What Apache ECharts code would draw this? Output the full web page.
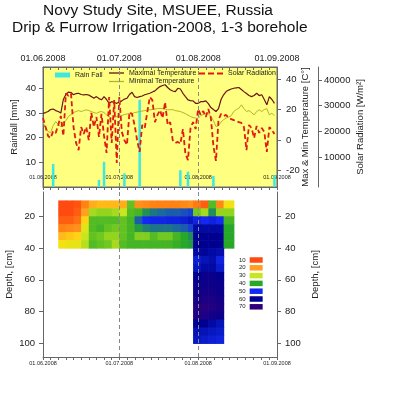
<!DOCTYPE html>
<html>
<head>
<meta charset="utf-8">
<script src="https://cdn.jsdelivr.net/npm/echarts@6/dist/echarts.min.js"></script>
<style>
html, body { margin: 0; padding: 0; background: #fff; }
#main { width: 400px; height: 397px; }
</style>
</head>
<body>
<div id="main"></div>
<script>
// daily weather, 01.06.2008 .. 31.08.2008
var startDay = '2008-06-01';
var maxTemp = [17.5, 18, 18.7, 20, 20.3, 19.3, 18.7, 17.7, 26.6, 29.9,
    31.5, 31.2, 29.7, 30.5, 30.7, 29.9, 29.7, 29.9, 29.5, 28.5,
    27.4, 28.5, 27.2, 26.4, 28.5, 26.6, 24.1, 25.2, 24.6, 24.1,
    24.9, 25.7, 26.9, 27.4, 29.9, 31.4, 28.5, 27.9, 28.5, 28.9,
    29.7, 30.2, 30.7, 31.5, 32.3, 33.8, 35.1, 35.8, 36.3, 34.5,
    33, 32.2, 31.8, 34, 33.5, 30.7, 28.5, 26.4, 25.9, 25.7,
    24.1, 24.1, 25.2, 25.2, 25.7, 23.9, 21.3, 20, 18.7, 20.6,
    26.6, 29.7, 31.8, 32.8, 33.5, 34, 34.3, 34.5, 33.2, 31.8,
    30.5, 29.2, 28.5, 29.2, 30.7, 29.2, 29.7, 26.6, 23.1, 28.5,
    26.6, 24.1];
var minTemp = [11.4, 8.1, 5.5, 4.8, 9.4, 12.1, 10.1, 8.8, 11.4, 12.7,
    15.4, 16.7, 18, 18.7, 19.3, 18.7, 19.3, 19.8, 19.3, 18.7,
    18, 17.5, 18.3, 18.7, 18, 16.5, 15.4, 14.2, 14.7, 15.4,
    16.5, 16, 16.7, 17, 17.5, 17.3, 18, 18.3, 18.7, 19,
    19.3, 19.6, 19.8, 20, 20.3, 20.6, 20.8, 20.6, 20.3, 19.8,
    19.8, 20, 19.3, 19, 18.7, 18, 17.3, 16.3, 15.4, 14.7,
    14.4, 14.2, 16, 16.7, 17.3, 17, 15.7, 12.7, 8.8, 9.4,
    11.7, 13.4, 14.4, 15, 16, 18.7, 20, 20.8, 23.1, 20.6,
    18.7, 19.3, 18, 16.5, 18.7, 19.8, 18.7, 20, 20.6, 16.5,
    17.5, 16];
var solarRad = [25200, 21700, 18200, 17400, 20100, 19400, 22500, 26000, 18200, 34800,
    33800, 34800, 21700, 15500, 12700, 21700, 19000, 21700, 16600, 27200,
    21700, 25600, 17800, 26800, 18200, 11600, 33400, 15500, 32200, 7700,
    33400, 19800, 16600, 14700, 27500, 26800, 22500, 16600, 12000, 22500,
    21300, 27500, 33400, 32200, 23600, 26400, 28300, 25200, 31400, 22500,
    23600, 16600, 15500, 15900, 15100, 20900, 11200, 8800, 21300, 23600,
    20900, 28700, 26400, 27900, 25600, 28700, 25200, 14300, 8500, 24400,
    26800, 26000, 26400, 25200, 24800, 24400, 24000, 23600, 23300, 21700,
    12700, 22500, 21300, 17400, 22100, 19400, 21300, 19800, 12000, 21700,
    20500, 19000];

var rainDays = ['2008-06-05', '2008-06-23', '2008-06-25', '2008-07-03', '2008-07-09',
    '2008-07-25', '2008-07-28', '2008-08-07', '2008-08-31'];
var rainMm = [9.3, 2.8, 10.2, 5.5, 35.3, 6.8, 6.2, 4.5, 4.8];

var monthStarts = ['2008-06-01', '2008-07-01', '2008-08-01', '2008-09-01'];
var rainTicks = [10, 20, 30, 40];
var tempTicks = [-20, 0, 20, 40];
var solarTicks = [10000, 20000, 30000, 40000];
var depthTicks = [20, 40, 60, 80, 100];

// soil moisture, borehole 1-3
var soilEdges = ['2008-06-07', '2008-06-10', '2008-06-13', '2008-06-16', '2008-06-19', '2008-06-22',
    '2008-06-25', '2008-06-28', '2008-07-01', '2008-07-04', '2008-07-07', '2008-07-10',
    '2008-07-13', '2008-07-16', '2008-07-19', '2008-07-22', '2008-07-25', '2008-07-28',
    '2008-07-30', '2008-08-02', '2008-08-05', '2008-08-08', '2008-08-11', '2008-08-15'];
var upperDepths = [10, 15, 20, 25, 30, 35, 40];
var upperMoisture = [
    [10, 10, 11, 16, 21, 22, 22, 22, 21, 36, 18, 17, 16, 16, 16, 16, 17, 18, 15, 12, 37, 17, 26],
    [10, 10, 12, 20, 32, 33, 33, 32, 30, 37, 38, 42, 44, 45, 46, 46, 47, 48, 35, 32, 42, 33, 33],
    [12, 12, 14, 24, 37, 37, 37, 37, 36, 38, 46, 50, 51, 51, 52, 52, 53, 55, 52, 50, 52, 50, 38],
    [16, 17, 18, 28, 37, 38, 36, 35, 36, 38, 41, 43, 44, 44, 44, 45, 46, 48, 58, 58, 58, 58, 40],
    [22, 23, 24, 30, 36, 35, 33, 33, 36, 38, 34, 34, 37, 35, 35, 38, 40, 42, 60, 60, 60, 60, 40],
    [26, 27, 27, 31, 37, 36, 35, 32, 37, 38, 38, 38, 38, 38, 38, 39, 40, 41, 60, 60, 60, 60, 40]
];
var deepFirstCol = 18;
var deepDepths = [40, 45, 50, 55, 60, 65, 70, 75, 80, 85, 90, 95, 100];
var deepMoisture = [
    [58, 59, 58, 57],
    [53, 56, 57, 52],
    [55, 58, 58, 54],
    [60, 62, 62, 60],
    [62, 63, 63, 62],
    [63, 64, 64, 62],
    [65, 66, 66, 64],
    [67, 68, 67, 65],
    [66, 66, 64, 62],
    [60, 60, 58, 56],
    [56, 56, 55, 54],
    [55, 54, 53, 52]
];
var legendLevels = [10, 20, 30, 40, 50, 60, 70];
var legendColors = ['#ff4a10', '#ffa020', '#c8e61e', '#28a828', '#1428f0', '#000090', '#30007a'];
var moistureScale = ['#ff4a10', '#ff7a10', '#ffa020', '#ffe010', '#c8e61e', '#70c820', '#28a828',
    '#1a6a9a', '#1428f0', '#0818c0', '#000090', '#180085', '#30007a'];

function day(s) {
    var p = s.split('-');
    return new Date(+p[0], +p[1] - 1, +p[2]).getTime();
}
function pad(n) { return n < 10 ? '0' + n : '' + n; }
function fmtDate(v) {
    var d = new Date(v);
    return pad(d.getDate()) + '.' + pad(d.getMonth() + 1) + '.' + d.getFullYear();
}

var p0 = startDay.split('-');
var dailyDates = maxTemp.map(function (v, i) {
    return new Date(+p0[0], +p0[1] - 1, +p0[2] + i).getTime();
});
var monthTs = monthStarts.map(day);
var minorTicks = [];
for (var m = 0; m < monthTs.length - 1; m++) {
    for (var k = 0; k < 10; k++) {
        minorTicks.push(monthTs[m] + (monthTs[m + 1] - monthTs[m]) * k / 10);
    }
}
minorTicks.push(monthTs[monthTs.length - 1]);

var soilData = [];
upperMoisture.forEach(function (row, r) {
    row.forEach(function (v, c) {
        soilData.push([day(soilEdges[c]), day(soilEdges[c + 1]), upperDepths[r], upperDepths[r + 1], v]);
    });
});
deepMoisture.forEach(function (row, r) {
    row.forEach(function (v, c) {
        var ci = deepFirstCol + c;
        soilData.push([day(soilEdges[ci]), day(soilEdges[ci + 1]), deepDepths[r], deepDepths[r + 1], v]);
    });
});

var axisGray = '#666';
var txt = '#222';
var font = 'Liberation Sans, Arial, sans-serif';

// dates are kept as timestamps on a plain value axis
function dateAxis(grid, pos, labelSize, margin, inside, tickInside) {
    return {
        type: 'value', gridIndex: grid, position: pos,
        min: monthTs[0], max: monthTs[3],
        axisLine: { show: true, onZero: false, lineStyle: { color: axisGray, width: 1 } },
        axisTick: { show: true, customValues: minorTicks, length: 3, inside: tickInside, lineStyle: { color: axisGray } },
        axisLabel: {
            customValues: monthTs, inside: inside, margin: margin,
            fontSize: labelSize, color: txt, formatter: fmtDate
        },
        splitLine: { show: false }
    };
}

function valueAxis(grid, pos, min, max, ticks, name, gap, margin, extra) {
    var a = {
        type: 'value', gridIndex: grid, position: pos, min: min, max: max,
        axisLine: { show: true, onZero: false, lineStyle: { color: axisGray } },
        axisTick: { show: true, customValues: ticks, length: 4, lineStyle: { color: axisGray } },
        axisLabel: { customValues: ticks, fontSize: 9.5, color: txt, margin: margin,
                     formatter: function (v) { return String(v); } },
        splitLine: { show: false },
        name: name, nameLocation: 'middle', nameGap: gap, nameMoveOverlap: false,
        nameTextStyle: { fontSize: 9.5, color: txt }
    };
    for (var key in extra) a[key] = extra[key];
    return a;
}

var dashLine = {
    symbol: 'none', silent: true, label: { show: false },
    lineStyle: { color: '#888', type: [4, 3], width: 1 },
    data: [{ xAxis: day('2008-07-01') }, { xAxis: day('2008-08-01') }]
};
var lineIcon = 'path://M0,0h15v1.3h-15z';
var dashIcon = 'path://M0,0h6v2h-6z M9,0h6v2h-6z M18,0h6v2h-6z';

var chart = echarts.init(document.getElementById('main'));
chart.setOption({
    animation: false,
    backgroundColor: '#fff',
    textStyle: { fontFamily: font },
    title: [
        { text: 'Novy Study Site, MSUEE, Russia', left: 43, top: 3, padding: 0,
          textStyle: { fontSize: 15.5, fontWeight: 'normal', color: '#111', fontFamily: font } },
        { text: 'Drip & Furrow Irrigation-2008, 1-3 borehole', left: 12, top: 20, padding: 0,
          textStyle: { fontSize: 15.5, fontWeight: 'normal', color: '#111', fontFamily: font } }
    ],
    grid: [
        { left: 43, top: 67, width: 234, height: 120, show: true, outerBoundsMode: 'none',
          backgroundColor: '#ffff80', borderColor: axisGray, borderWidth: 1 },
        { left: 43, top: 192, width: 234, height: 165, outerBoundsMode: 'none' }
    ],
    legend: [
        { data: ['Rain Fall'], left: 55, top: 71.5, padding: 0, itemWidth: 15, itemHeight: 5,
          icon: 'rect', selectedMode: false, textStyle: { fontSize: 7, color: txt } },
        { data: ['Maximal Temperature'], left: 109, top: 69.5, padding: 0, itemWidth: 15, itemHeight: 1.3,
          icon: lineIcon, selectedMode: false, textStyle: { fontSize: 7, color: txt } },
        { data: ['Minimal Temperature'], left: 109, top: 78, padding: 0, itemWidth: 15, itemHeight: 1.3,
          icon: lineIcon, selectedMode: false, textStyle: { fontSize: 7, color: txt } },
        { data: ['Solar Radiation'], left: 199, top: 70, padding: 0, itemWidth: 24, itemHeight: 2,
          icon: dashIcon, selectedMode: false, textStyle: { fontSize: 7, color: txt } }
    ],
    visualMap: [
        { type: 'continuous', show: false, seriesIndex: 5, dimension: 4,
          min: 10, max: 70, inRange: { color: moistureScale } },
        { type: 'piecewise', seriesIndex: [], orient: 'vertical', left: 239, top: 257, padding: 0,
          itemWidth: 13, itemHeight: 5.5, itemGap: 1.8, itemSymbol: 'rect', textGap: 4,
          inverse: true, selectedMode: false,
          textStyle: { fontSize: 6, color: txt },
          pieces: legendLevels.map(function (v, i) {
              return { value: v, label: String(v), color: legendColors[i] };
          }) }
    ],
    xAxis: [
        dateAxis(0, 'bottom', 5.5, 7, true, false),
        dateAxis(0, 'top', 9, 4, false, true),
        dateAxis(1, 'bottom', 5.5, 3, false, false)
    ],
    yAxis: [
        valueAxis(0, 'left', 0, 48.6, rainTicks, 'Rainfall [mm]', 24, 7, {}),
        valueAxis(0, 'right', -31, 48, tempTicks, 'Max & Min Temperature [C°]', 23, 9, {}),
        valueAxis(0, 'right', -1700, 45100, solarTicks, 'Solar Radiation [W/m²]', 37, 6, { offset: 41 }),
        valueAxis(1, 'left', 4.7, 108.6, depthTicks, 'Depth, [cm]', 28.5, 8, { inverse: true }),
        valueAxis(1, 'right', 4.7, 108.6, depthTicks, 'Depth, [cm]', 33.5, 8, { inverse: true })
    ],
    series: [
        { name: 'Rain Fall', type: 'bar', xAxisIndex: 0, yAxisIndex: 0, barWidth: 2.5,
          itemStyle: { color: '#3de8e0' },
          data: rainDays.map(function (d, i) { return [day(d), rainMm[i]]; }),
          markLine: dashLine, z: 2 },
        { name: 'Maximal Temperature', type: 'line', xAxisIndex: 0, yAxisIndex: 1, symbol: 'none',
          lineStyle: { color: '#6b1410', width: 1.2 }, itemStyle: { color: '#6b1410' },
          data: dailyDates.map(function (d, i) { return [d, maxTemp[i]]; }), z: 3 },
        { name: 'Minimal Temperature', type: 'line', xAxisIndex: 0, yAxisIndex: 1, symbol: 'none',
          lineStyle: { color: '#b4b428', width: 1 }, itemStyle: { color: '#b4b428' },
          data: dailyDates.map(function (d, i) { return [d, minTemp[i]]; }), z: 3 },
        { name: 'Solar Radiation', type: 'line', xAxisIndex: 0, yAxisIndex: 2, symbol: 'none',
          lineStyle: { color: '#e01a10', width: 1.8, type: [5, 3] }, itemStyle: { color: '#e01a10' },
          data: dailyDates.map(function (d, i) { return [d, solarRad[i]]; }), z: 4 },
        { name: 'months', type: 'line', xAxisIndex: 2, yAxisIndex: 3, data: [],
          markLine: dashLine, z: 1 },
        { name: 'Soil moisture', type: 'custom', xAxisIndex: 2, yAxisIndex: 3, z: 2,
          encode: { x: [0, 1], y: [2, 3] },
          renderItem: function (params, api) {
              var a = api.coord([api.value(0), api.value(2)]);
              var b = api.coord([api.value(1), api.value(3)]);
              return {
                  type: 'rect',
                  shape: { x: a[0], y: a[1], width: b[0] - a[0] + 0.6, height: b[1] - a[1] + 0.6 },
                  style: { fill: api.visual('color') }
              };
          },
          data: soilData }
    ]
});
</script>
</body>
</html>
